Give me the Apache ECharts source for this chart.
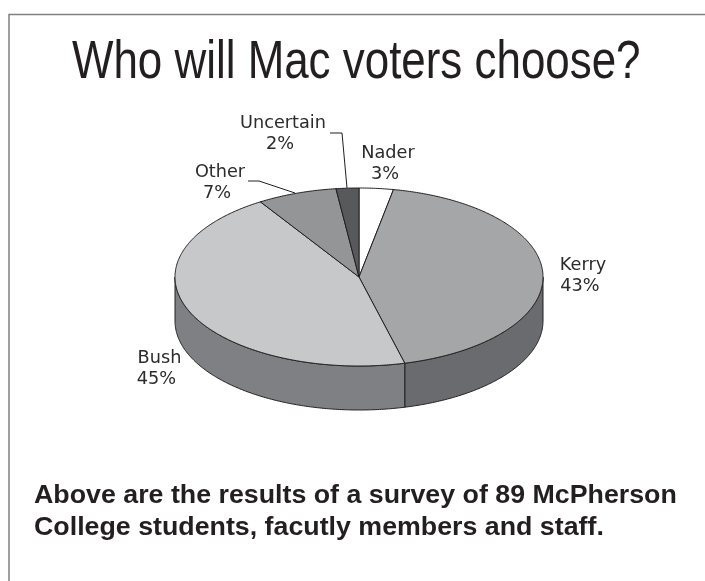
<!DOCTYPE html>
<html>
<head>
<meta charset="utf-8">
<style>html,body{margin:0;padding:0;background:#fff}#chart{width:705px;height:581px}</style>
<script src="https://cdn.jsdelivr.net/npm/echarts@6/dist/echarts.min.js"></script>
</head>
<body>
<div id="chart"></div>
<script>
// Survey shares, clockwise from twelve o'clock
const categories = ['Nader', 'Kerry', 'Bush', 'Other', 'Uncertain'];
const shares = [3, 43, 45, 7, 2];
const topColors = ['#ffffff', '#a5a6a8', '#c7c8ca', '#949597', '#58595b'];
const sideColors = ['#ffffff', '#6a6b6f', '#7f8083', '#949597', '#58595b'];

const titleText = 'Who will Mac voters choose?';
const captionLines = [
  'Above are the results of a survey of 89 McPherson',
  'College students, facutly members and staff.'
];

// Tilted disc geometry
const disc = { cx: 359, cy: 277, rx: 184, ry: 89, depth: 44 };
const edge = '#231f20';

const total = shares.reduce((a, b) => a + b, 0);
const sweepStart = i => shares.slice(0, i).reduce((a, b) => a + b, 0) / total * 2 * Math.PI;
const rimPoint = (t, dy) => [
  disc.cx + disc.rx * Math.sin(t),
  disc.cy - disc.ry * Math.cos(t) + (dy || 0)
];
const arcPoints = (from, to, dy) => {
  const n = Math.max(2, Math.ceil((to - from) / 0.01));
  const pts = [];
  for (let k = 0; k <= n; k++) pts.push(rimPoint(from + (to - from) * k / n, dy));
  return pts;
};

// Top face of a slice
function renderTop(params, api) {
  const i = params.dataIndex;
  const from = sweepStart(i);
  const to = from + api.value(0) / total * 2 * Math.PI;
  return {
    type: 'polygon',
    shape: { points: [[disc.cx, disc.cy]].concat(arcPoints(from, to)) },
    style: { fill: topColors[i], stroke: edge, lineWidth: 1, lineJoin: 'round' }
  };
}

// Visible wall of a slice: only the part of the rim on the near half of the disc
function renderSide(params, api) {
  const i = params.dataIndex;
  const from = Math.max(sweepStart(i), Math.PI / 2);
  const to = Math.min(sweepStart(i) + api.value(0) / total * 2 * Math.PI, Math.PI * 1.5);
  if (to <= from) return null;
  const pts = arcPoints(from, to).concat(arcPoints(from, to, disc.depth).reverse());
  return {
    type: 'polygon',
    shape: { points: pts },
    style: { fill: sideColors[i], stroke: edge, lineWidth: 1, lineJoin: 'round' }
  };
}

// Two-line slice label; the percentage sits slightly left of the name's centre
const labelFont = '17.7px "DejaVu Sans"';
const labelLine = (text, x, y) => ({
  type: 'text', x, y, z: 10,
  style: { text, font: labelFont, fill: '#2b2b2b', align: 'center', verticalAlign: 'middle' }
});
const sliceLabel = (i, x, y) => [
  labelLine(categories[i], x, y),
  labelLine(shares[i] + '%', x - 3, y + 21)
];
const leader = pts => ({
  type: 'polyline', z: 10,
  shape: { points: pts },
  style: { stroke: edge, lineWidth: 1, fill: null }
});

const seriesData = shares.map((v, i) => ({ name: categories[i], value: [v] }));

const chart = echarts.init(document.getElementById('chart'), null, { renderer: 'canvas' });
chart.setOption({
  animation: false,
  backgroundColor: '#ffffff',
  series: [
    { type: 'custom', coordinateSystem: 'none', renderItem: renderSide, data: seriesData, z: 2, silent: true },
    { type: 'custom', coordinateSystem: 'none', renderItem: renderTop, data: seriesData, z: 3, silent: true }
  ],
  graphic: [
    { type: 'polyline', shape: { points: [[9, 581], [9, 14.5], [705, 14.5]] },
      style: { stroke: '#808080', lineWidth: 1.5, fill: null } },
    { type: 'text', x: 72, y: 36, scaleX: 0.813,
      style: { text: titleText, font: '54px "Liberation Sans"', fill: '#231f20' } },
    ...sliceLabel(0, 388, 153),
    ...sliceLabel(1, 583, 265),
    ...sliceLabel(2, 159.5, 358),
    ...sliceLabel(3, 220, 172),
    ...sliceLabel(4, 283, 123),
    leader([[330, 133], [342, 133], [347, 188]]),
    leader([[248, 181], [259, 181], [295, 193]]),
    { type: 'text', x: 34, y: 480, scaleX: 1.05,
      style: { text: captionLines.join('\n'), font: 'bold 25.5px "Liberation Sans"', fill: '#231f20', lineHeight: 32 } }
  ]
});
</script>
</body>
</html>
